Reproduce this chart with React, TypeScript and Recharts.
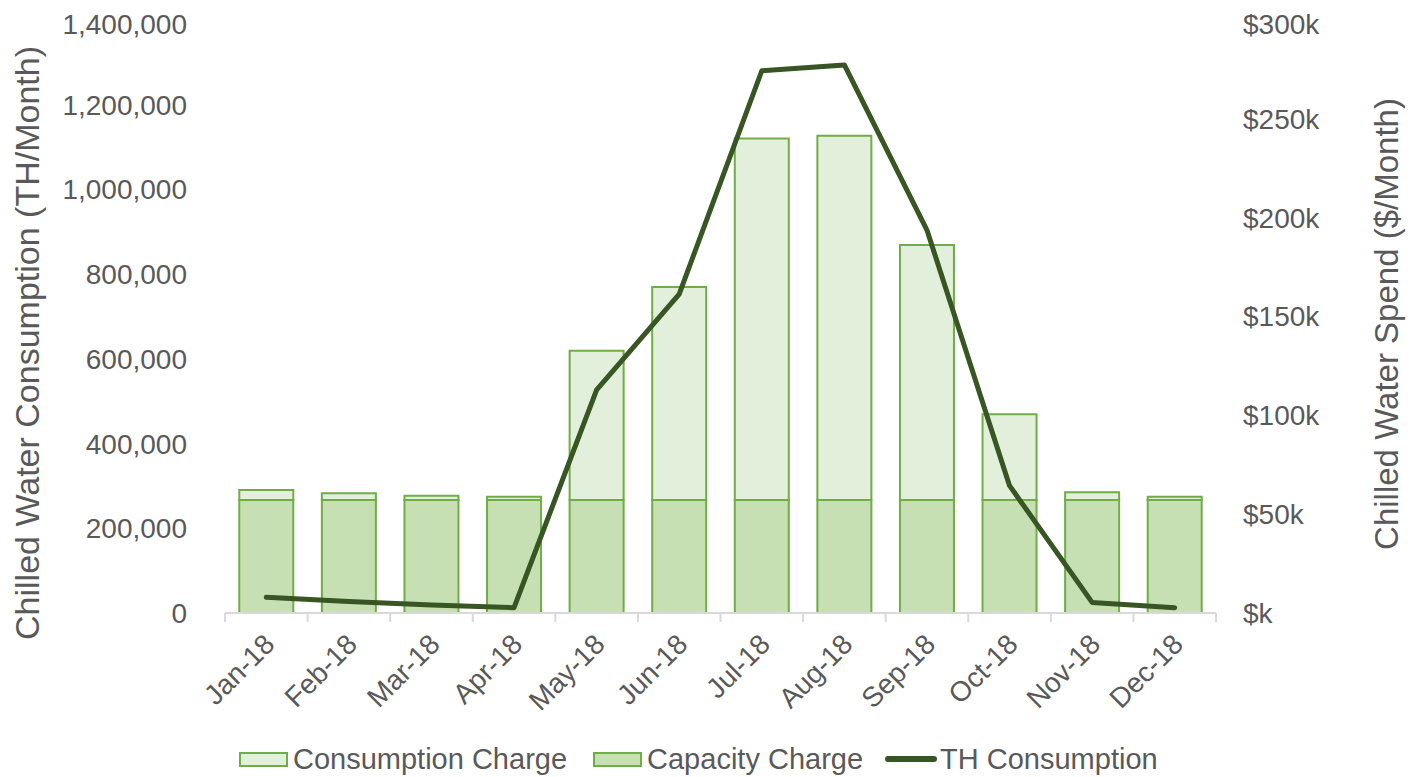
import React from "react";
import { ComposedChart, Bar, Line, XAxis, YAxis, Legend } from "recharts";

// values
const months = [
  "Jan-18", "Feb-18", "Mar-18", "Apr-18", "May-18", "Jun-18",
  "Jul-18", "Aug-18", "Sep-18", "Oct-18", "Nov-18", "Dec-18",
];
const capacityCharge = [
  57200, 57200, 57200, 57200, 57200, 57200,
  57200, 57200, 57200, 57200, 57200, 57200,
];
const consumptionCharge = [
  5000, 3400, 2100, 1600, 75500, 107700,
  182800, 184300, 129000, 43300, 3900, 1600,
];
const thConsumption = [
  37000, 27000, 19000, 12500, 527000, 753000,
  1280000, 1294000, 904000, 300600, 25000, 12500,
];
const leftTicks = [0, 200000, 400000, 600000, 800000, 1000000, 1200000, 1400000];
const rightTicks = [0, 50000, 100000, 150000, 200000, 250000, 300000];

const data = months.map((month, i) => ({
  month,
  capacity: capacityCharge[i],
  consumption: consumptionCharge[i],
  th: thConsumption[i],
}));

const FONT = '"Liberation Sans", Arial, sans-serif';
const TEXT = "#595959";
const BAR_STROKE = "#70AD47";
const CONSUMPTION_FILL = "#E2EFDA";
const CAPACITY_FILL = "#C6E0B4";
const LINE_COLOR = "#375623";
const AXIS_GREY = "#D9D9D9";

const W = 1400;
const H = 769;
const PLOT_LEFT = 217;
const PLOT_RIGHT = 1208;
const BAND = (PLOT_RIGHT - PLOT_LEFT) / months.length;

function MonthTick(props: any) {
  const { x, y, payload, index } = props;
  const left = x - BAND / 2;
  const ax = x + 10;
  const ay = y + 33;
  return (
    <g>
      <line x1={left} y1={y} x2={left} y2={y + 9} stroke={AXIS_GREY} strokeWidth={2} />
      {index === months.length - 1 && (
        <line x1={x + BAND / 2} y1={y} x2={x + BAND / 2} y2={y + 9} stroke={AXIS_GREY} strokeWidth={2} />
      )}
      <text
        x={ax}
        y={ay}
        textAnchor="end"
        transform={`rotate(-45, ${ax}, ${ay})`}
        fill={TEXT}
        fontSize={28}
        fontFamily={FONT}
      >
        {payload.value}
      </text>
    </g>
  );
}

function ChartLegend() {
  const swatch = (fill: string) => (
    <span
      style={{
        display: "inline-block",
        width: 49,
        height: 15,
        boxSizing: "border-box",
        border: `2px solid ${BAR_STROKE}`,
        background: fill,
        marginRight: 5,
      }}
    />
  );
  return (
    <div
      style={{
        display: "flex",
        alignItems: "center",
        height: 36,
        paddingLeft: 231,
        fontFamily: FONT,
        fontSize: 29,
        color: TEXT,
        whiteSpace: "nowrap",
      }}
    >
      {swatch(CONSUMPTION_FILL)}
      <span style={{ marginRight: 26 }}>Consumption Charge</span>
      {swatch(CAPACITY_FILL)}
      <span style={{ marginRight: 22 }}>Capacity Charge</span>
      <span
        style={{
          display: "inline-block",
          width: 52,
          height: 6,
          borderRadius: 3,
          background: LINE_COLOR,
          marginRight: 3,
        }}
      />
      <span>TH Consumption</span>
    </div>
  );
}

export default function App() {
  return (
    <div style={{ width: W, height: H }}>
      <ComposedChart
        width={W}
        height={H}
        data={data}
        margin={{ top: 12, right: 0, bottom: 0, left: 0 }}
        barCategoryGap="17.3%"
      >
        <XAxis
          dataKey="month"
          interval={0}
          height={128}
          tickSize={0}
          tickMargin={0}
          tickLine={false}
          axisLine={{ stroke: AXIS_GREY, strokeWidth: 2 }}
          tick={<MonthTick />}
        />
        <YAxis
          yAxisId="left"
          domain={[0, 1400000]}
          ticks={leftTicks}
          width={217}
          tickSize={0}
          tickMargin={38}
          axisLine={false}
          tickLine={false}
          tick={{ fill: TEXT, fontSize: 28, fontFamily: FONT }}
          tickFormatter={(v: number) => v.toLocaleString("en-US")}
          label={{
            value: "Chilled Water Consumption (TH/Month)",
            content: () => (
              <text
                x={19}
                y={335}
                textAnchor="middle"
                dominantBaseline="central"
                transform="rotate(-90, 19, 335)"
                fill={TEXT}
                fontSize={34}
                fontFamily={FONT}
              >
                Chilled Water Consumption (TH/Month)
              </text>
            ),
          }}
        />
        <YAxis
          yAxisId="right"
          orientation="right"
          domain={[0, 300000]}
          ticks={rightTicks}
          width={192}
          tickSize={0}
          tickMargin={27}
          axisLine={false}
          tickLine={false}
          tick={{ fill: TEXT, fontSize: 28, fontFamily: FONT }}
          tickFormatter={(v: number) => (v === 0 ? "$k" : `$${v / 1000}k`)}
          label={{
            value: "Chilled Water Spend ($/Month)",
            content: () => (
              <text
                x={1378}
                y={316}
                textAnchor="middle"
                dominantBaseline="central"
                transform="rotate(-90, 1378, 316)"
                fill={TEXT}
                fontSize={33}
                fontFamily={FONT}
              >
                Chilled Water Spend ($/Month)
              </text>
            ),
          }}
        />
        <Legend verticalAlign="bottom" wrapperStyle={{ left: 0, width: W }} content={<ChartLegend />} />
        <Bar
          yAxisId="right"
          dataKey="capacity"
          name="Capacity Charge"
          stackId="spend"
          fill={CAPACITY_FILL}
          stroke={BAR_STROKE}
          strokeWidth={2}
          isAnimationActive={false}
        />
        <Bar
          yAxisId="right"
          dataKey="consumption"
          name="Consumption Charge"
          stackId="spend"
          fill={CONSUMPTION_FILL}
          stroke={BAR_STROKE}
          strokeWidth={2}
          isAnimationActive={false}
        />
        <Line
          yAxisId="left"
          type="linear"
          dataKey="th"
          name="TH Consumption"
          stroke={LINE_COLOR}
          strokeWidth={5}
          strokeLinecap="round"
          strokeLinejoin="round"
          dot={false}
          activeDot={false}
          isAnimationActive={false}
        />
      </ComposedChart>
    </div>
  );
}
